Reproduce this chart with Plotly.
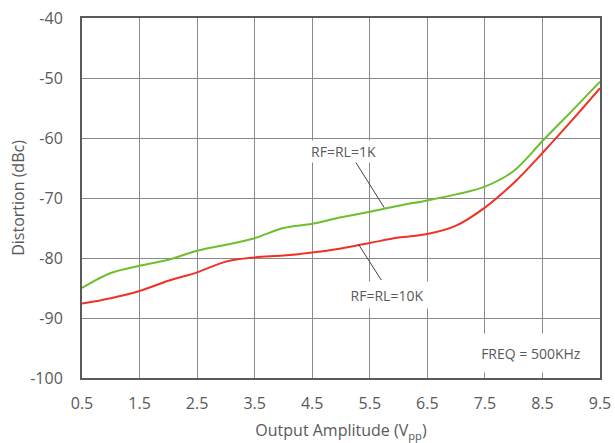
import plotly.graph_objects as go

amplitude = [0.5, 1.0, 1.5, 2.0, 2.5, 3.0, 3.5, 4.0, 4.5, 5.0, 5.5, 6.0, 6.5, 7.0, 7.5, 8.0, 8.5, 9.0, 9.5]
dist_1k = [-85.0, -82.5, -81.3, -80.3, -78.8, -77.8, -76.7, -75.0, -74.3, -73.2, -72.3, -71.3, -70.4, -69.4, -68.1, -65.5, -60.5, -55.6, -50.6]
dist_10k = [-87.6, -86.7, -85.5, -83.8, -82.4, -80.6, -79.9, -79.6, -79.1, -78.4, -77.5, -76.6, -76.0, -74.6, -71.6, -67.5, -62.5, -57.2, -51.7]

x_ticks = [0.5, 1.5, 2.5, 3.5, 4.5, 5.5, 6.5, 7.5, 8.5, 9.5]
y_ticks = [-100, -90, -80, -70, -60, -50, -40]

TEXT = "#595959"
FONT = "Open Sans"

fig = go.Figure()
fig.add_trace(go.Scatter(x=amplitude, y=dist_1k, mode="lines", name="RF=RL=1K",
                         line=dict(color="#6EBE2E", width=2, shape="spline", smoothing=1.0)))
fig.add_trace(go.Scatter(x=amplitude, y=dist_10k, mode="lines", name="RF=RL=10K",
                         line=dict(color="#F03226", width=2, shape="spline", smoothing=1.0)))

# leader lines
fig.add_shape(type="line", x0=5.25, y0=-63.95, x1=5.75, y1=-71.6,
              line=dict(color="#404040", width=1), layer="above")
fig.add_shape(type="line", x0=5.30, y0=-77.67, x1=5.70, y1=-83.67,
              line=dict(color="#404040", width=1), layer="above")

ann_font = dict(family=FONT, size=14, color=TEXT)
fig.add_annotation(x=5.05, y=-62.3, text="RF=RL=1K", showarrow=False, font=ann_font,
                   bgcolor="white", width=87, height=21, borderpad=0)
fig.add_annotation(x=5.80, y=-86.1, text="RF=RL=10K", showarrow=False, font=ann_font,
                   bgcolor="white", width=100, height=26, borderpad=0)
fig.add_annotation(x=8.30, y=-95.8, text="FREQ = 500KHz", showarrow=False, font=ann_font,
                   bgcolor="white", width=120, height=38, borderpad=0)

axis_common = dict(
    showgrid=True, gridcolor="#8a8a8a", gridwidth=1,
    showline=True, linecolor="#5a5a5a", linewidth=2, mirror=True,
    ticks="", zeroline=False, automargin=False,
    tickfont=dict(family=FONT, size=16, color=TEXT),
)

fig.update_layout(
    width=615, height=443,
    margin=dict(l=82, r=15, t=18, b=65),
    paper_bgcolor="white", plot_bgcolor="white",
    showlegend=False,
    xaxis=dict(range=[0.5, 9.5], tickvals=x_ticks, ticktext=[f"{v}" for v in x_ticks],
               ticklabelstandoff=10,
               title=dict(text="Output Amplitude (V<sub>pp</sub>)", standoff=12,
                          font=dict(family=FONT, size=16, color=TEXT)),
               **axis_common),
    yaxis=dict(range=[-100, -40], tickvals=y_ticks, ticktext=[f"{v}" for v in y_ticks],
               ticklabelstandoff=14,
               title=dict(text="Distortion (dBc)", standoff=2,
                          font=dict(family=FONT, size=16, color=TEXT)),
               **axis_common),
)

fig.write_html("out.html",
               config={"displayModeBar": False},
               post_script="document.body.style.margin='0';document.body.style.overflow='hidden';")
